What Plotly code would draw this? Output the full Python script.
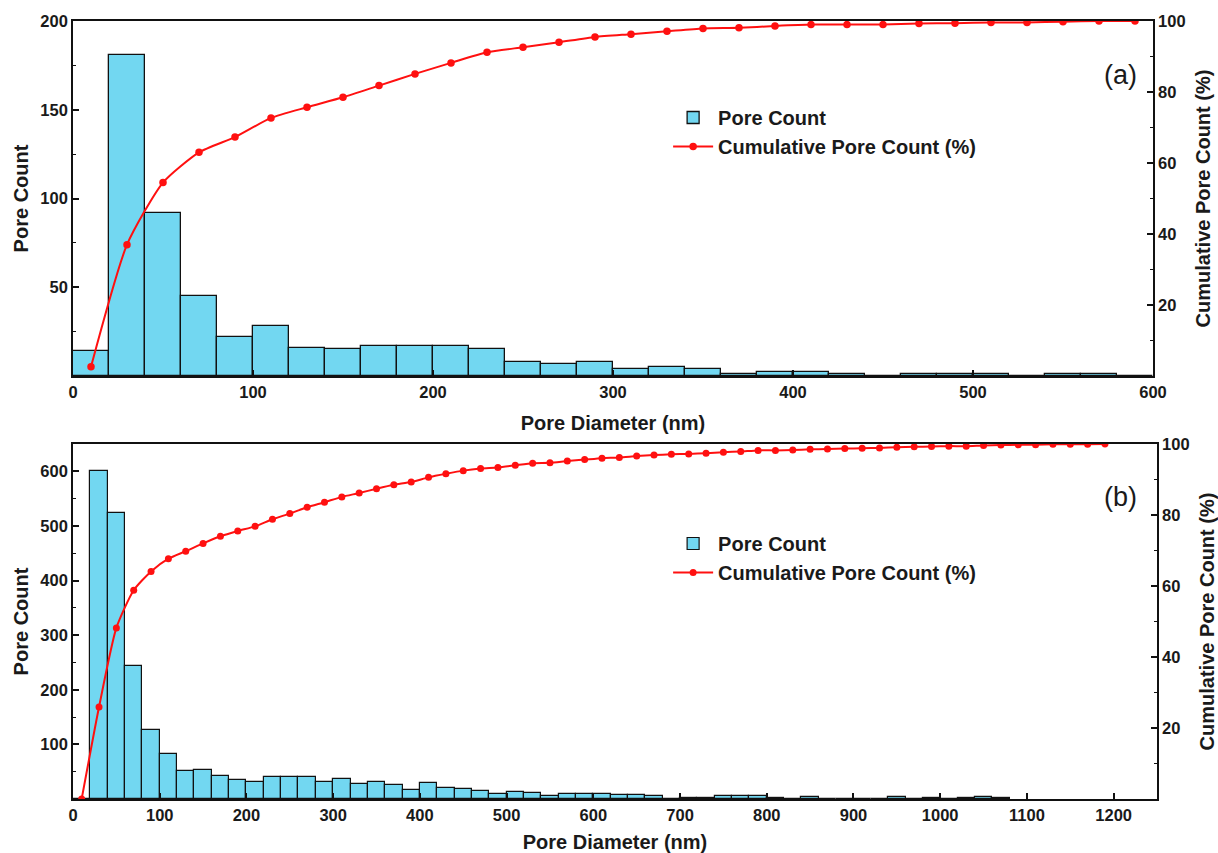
import plotly.graph_objects as go

# ---------------- data ----------------
# (a) 20 nm bins, centres 10..590
a_centers = list(range(10, 600, 20))
a_counts = [14, 181, 92, 45, 22, 28, 16, 15, 17, 17,
            17, 15, 8, 7, 8, 4, 5, 4, 1, 2,
            2, 1, 0, 1, 1, 1, 0, 1, 1, 0]
a_cum = [2.6, 37.0, 54.5, 63.0, 67.3, 72.7, 75.7, 78.5, 81.8, 85.1,
         88.2, 91.2, 92.6, 94.0, 95.5, 96.3, 97.1, 97.9, 98.1, 98.6,
         99.0, 99.0, 99.0, 99.3, 99.4, 99.6, 99.6, 99.8, 100.0, 100.0]

# (b) 20 nm bins, centres 10..1070 for bars, 10..1190 for cumulative
b_bar_centers = list(range(10, 1080, 20))
b_counts = [0, 601, 523, 244, 127, 83, 51, 54, 43, 35,
            32, 41, 40, 40, 32, 37, 27, 31, 25, 17,
            29, 21, 18, 14, 10, 13, 11, 6, 10, 9,
            10, 7, 8, 5, 0, 1, 1, 5, 6, 5,
            1, 0, 4, 0, 0, 0, 0, 4, 0, 1,
            0, 1, 4, 2]
b_cum_centers = list(range(10, 1200, 20))
b_cum = [0.0, 25.9, 48.2, 58.8, 64.1, 67.7, 69.8, 72.0, 74.0, 75.5,
         76.8, 78.8, 80.4, 82.2, 83.6, 85.1, 86.2, 87.4, 88.5, 89.3,
         90.6, 91.6, 92.5, 93.1, 93.4, 94.0, 94.6, 94.7, 95.2, 95.6,
         96.0, 96.2, 96.6, 96.9, 97.1, 97.2, 97.4, 97.7, 97.9, 98.2,
         98.2, 98.3, 98.5, 98.6, 98.7, 98.8, 98.9, 99.1, 99.2, 99.3,
         99.4, 99.4, 99.6, 99.7, 99.8, 99.8, 99.9, 99.9, 99.9, 100.0]

a_x_ticks = [0, 100, 200, 300, 400, 500, 600]
a_y_ticks = [50, 100, 150, 200]
b_x_ticks = [0, 100, 200, 300, 400, 500, 600, 700, 800, 900, 1000, 1100, 1200]
b_y_ticks = [100, 200, 300, 400, 500, 600]
pct_ticks = [20, 40, 60, 80, 100]

BAR_COLOR = "#72D7F1"
LINE_COLOR = "#FF1010"
FONT = "Liberation Sans, Arial, sans-serif"
BOLD_TICK = dict(family=FONT, size=16.5, color="#1a1a1a", weight="bold")
BOLD_TITLE = dict(family=FONT, size=20, color="#1a1a1a", weight="bold")
LEG_FONT = dict(family=FONT, size=20, color="#1a1a1a", weight="bold")

fig = go.Figure()

# ---- (a)
fig.add_trace(go.Bar(x=a_centers, y=a_counts, width=20, name="Pore Count",
                     marker=dict(color=BAR_COLOR, line=dict(color="#111111", width=1.3)),
                     xaxis="x", yaxis="y", legend="legend"))
fig.add_trace(go.Scatter(x=a_centers, y=a_cum, mode="lines+markers",
                         name="Cumulative Pore Count (%)",
                         line=dict(color=LINE_COLOR, width=2, shape="spline", smoothing=0.6),
                         marker=dict(color=LINE_COLOR, size=7.5),
                         xaxis="x", yaxis="y2", legend="legend"))
# ---- (b)
fig.add_trace(go.Bar(x=b_bar_centers, y=b_counts, width=20, name="Pore Count",
                     marker=dict(color=BAR_COLOR, line=dict(color="#111111", width=1.2)),
                     xaxis="x2", yaxis="y3", legend="legend2"))
fig.add_trace(go.Scatter(x=b_cum_centers, y=b_cum, mode="lines+markers",
                         name="Cumulative Pore Count (%)",
                         line=dict(color=LINE_COLOR, width=2, shape="spline", smoothing=0.6),
                         marker=dict(color=LINE_COLOR, size=7),
                         xaxis="x2", yaxis="y4", legend="legend2"))

axis_common = dict(showline=True, linecolor="#111111", linewidth=1.6, mirror=True,
                   ticks="inside", ticklen=6, tickwidth=1.5, tickcolor="#111111",
                   showgrid=False, zeroline=False, tickfont=BOLD_TICK, automargin=False)

def minor_inside(vals):
    return dict(ticks="inside", ticklen=3.5, tickwidth=1.3, tickcolor="#111111",
                tickmode="array", tickvals=vals)

top_dom = [0.5437, 1.0]
bot_dom = [0.0, 0.4563]

fig.update_layout(
    width=1218, height=853,
    margin=dict(l=73, r=61, t=21, b=54, autoexpand=False),
    paper_bgcolor="white", plot_bgcolor="white",
    barmode="overlay",
    bargap=0,
    xaxis=dict(axis_common, domain=[0, 0.9963], range=[0, 600], anchor="y",
               tickmode="array", tickvals=a_x_ticks,
               title=dict(text="Pore Diameter (nm)", font=BOLD_TITLE, standoff=16)),
    yaxis=dict(axis_common, domain=top_dom, range=[0, 200], anchor="x",
               tickmode="array", tickvals=a_y_ticks,
               minor=minor_inside([25, 75, 125, 175]),
               title=dict(text="Pore Count", font=BOLD_TITLE, standoff=6)),
    yaxis2=dict(axis_common, domain=top_dom, range=[0, 100], anchor="x",
                overlaying="y", side="right", mirror=False,
                tickmode="array", tickvals=pct_ticks,
                minor=minor_inside([10, 30, 50, 70, 90]),
                title=dict(text="Cumulative Pore Count (%)", font=BOLD_TITLE, standoff=11)),
    xaxis2=dict(axis_common, domain=[0, 1], range=[0, 1250], anchor="y3",
                tickmode="array", tickvals=b_x_ticks,
                title=dict(text="Pore Diameter (nm)", font=BOLD_TITLE, standoff=13)),
    yaxis3=dict(axis_common, domain=bot_dom, range=[0, 650], anchor="x2",
                tickmode="array", tickvals=b_y_ticks,
                minor=minor_inside([50, 150, 250, 350, 450, 550]),
                title=dict(text="Pore Count", font=BOLD_TITLE, standoff=6)),
    yaxis4=dict(axis_common, domain=bot_dom, range=[0, 100], anchor="x2",
                overlaying="y3", side="right", mirror=False,
                tickmode="array", tickvals=pct_ticks,
                minor=minor_inside([10, 30, 50, 70, 90]),
                title=dict(text="Cumulative Pore Count (%)", font=BOLD_TITLE, standoff=11)),
    legend=dict(x=0.549, y=0.901, xanchor="left", yanchor="top",
                bgcolor="rgba(0,0,0,0)", borderwidth=0, font=LEG_FONT,
                tracegroupgap=0, itemwidth=40),
    legend2=dict(x=0.549, y=0.3535, xanchor="left", yanchor="top",
                 bgcolor="rgba(0,0,0,0)", borderwidth=0, font=LEG_FONT,
                 tracegroupgap=0, itemwidth=40),
    annotations=[
        dict(text="(a)", x=0.966, y=0.9306, xref="paper", yref="paper", showarrow=False,
             xanchor="center", yanchor="middle",
             font=dict(family=FONT, size=27, color="#1a1a1a")),
        dict(text="(b)", x=0.966, y=0.388, xref="paper", yref="paper", showarrow=False,
             xanchor="center", yanchor="middle",
             font=dict(family=FONT, size=27, color="#1a1a1a")),
    ],
)
fig.write_html("out.html")
